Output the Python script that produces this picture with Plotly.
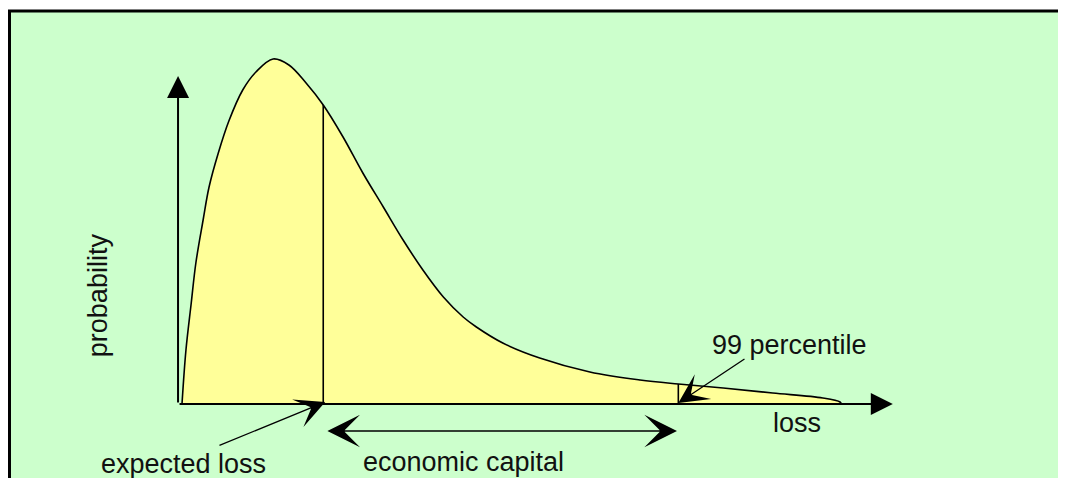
import plotly.graph_objects as go

# loss distribution
loss = [0, 0.06, 0.14, 0.21, 0.32, 0.41, 0.55, 0.71, 0.92, 1.12, 1.38, 1.62, 1.88, 2.14,
        2.44, 2.74, 3.05, 3.35, 3.65, 3.96, 4.26, 4.46, 4.86, 5.42, 6.18, 6.94, 7.52,
        8.20, 8.95, 9.71, 9.97, 9.99]
probability = [0, 0.054, 0.101, 0.141, 0.184, 0.217, 0.251, 0.283, 0.314, 0.332, 0.345,
               0.339, 0.321, 0.299, 0.267, 0.231, 0.197, 0.164, 0.134, 0.107, 0.087,
               0.077, 0.061, 0.046, 0.032, 0.024, 0.020, 0.016, 0.011, 0.006, 0.002, 0]

expected_loss = 2.14
expected_loss_height = 0.299
percentile_99 = 7.52
percentile_99_height = 0.020

FONT = dict(family="Liberation Sans, Arial, sans-serif", size=27, color="#111111")
BG = "#CCFFCC"

fig = go.Figure()

fig.add_trace(go.Scatter(
    x=loss, y=probability, mode="lines",
    line=dict(color="black", width=1.6, shape="spline", smoothing=1.0),
    fill="tozeroy", fillcolor="#FFFF99",
    hoverinfo="skip", showlegend=False,
))

# markers for expected loss and 99 percentile
for x_val, h in [(expected_loss, expected_loss_height), (percentile_99, percentile_99_height)]:
    fig.add_trace(go.Scatter(
        x=[x_val, x_val], y=[0, h], mode="lines",
        line=dict(color="black", width=1.6),
        hoverinfo="skip", showlegend=False,
    ))


def arrow(x, y, ax, ay, head=2, width=2.0, size=2.0, side="end"):
    fig.add_annotation(
        x=x, y=y, ax=ax, ay=ay, xref="x", yref="y", axref="x", ayref="y",
        text="", showarrow=True, arrowhead=head, startarrowhead=head,
        arrowwidth=width, arrowsize=size, startarrowsize=size,
        arrowside=side, arrowcolor="black", standoff=0, startstandoff=0,
    )


# axes
arrow(10.77, 0, -0.06, 0, size=2.2)
arrow(-0.06, 0.328, -0.06, 0, size=2.2)

# pointers
arrow(expected_loss + 0.03, 0.002, 0.545, -0.042, head=3, width=1.3, size=3.8)
arrow(percentile_99, 0.001, 8.545, 0.046, head=3, width=1.3, size=3.8)
arrow(percentile_99 - 0.02, -0.027, expected_loss + 0.04, -0.027,
      head=3, width=1.6, size=3.4, side="end+start")

labels = [
    ("probability", -1.27, 0.109, -90),
    ("99 percentile", 9.21, 0.059, 0),
    ("loss", 9.32, -0.019, 0),
    ("expected loss", 0.03, -0.060, 0),
    ("economic capital", 4.26, -0.058, 0),
]
for text, x, y, ang in labels:
    fig.add_annotation(x=x, y=y, xref="x", yref="y", text=text, showarrow=False,
                       textangle=ang, font=FONT)

# framed green panel
fig.add_shape(type="rect", xref="paper", yref="paper",
              x0=1.5 / 1066, y0=-0.2, x1=1.2, y1=1 - 3 / 478,
              fillcolor=BG, line=dict(color="black", width=3), layer="below")

fig.update_layout(
    width=1066, height=478,
    margin=dict(l=0, r=0, t=0, b=0),
    paper_bgcolor="white", plot_bgcolor="rgba(0,0,0,0)",
    xaxis=dict(range=[-174 / 66, (1066 - 174) / 66], visible=False, fixedrange=True),
    yaxis=dict(range=[-0.082, 0.396], visible=False, fixedrange=True),
    showlegend=False,
)

fig.write_html("out.html")
